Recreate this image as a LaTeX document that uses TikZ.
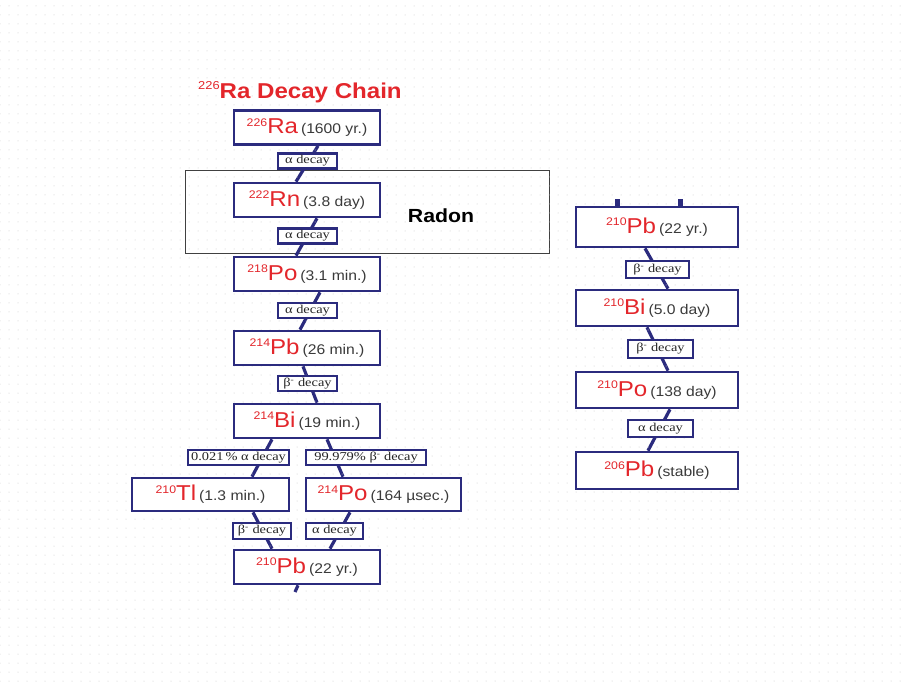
\documentclass[tikz,border=0pt]{standalone}
\usepackage{fontspec}
\setmainfont[FakeStretch=1.12]{Liberation Sans}
\newfontfamily\serifl[FakeStretch=1.2]{Liberation Serif}
\usetikzlibrary{calc,patterns.meta}
\definecolor{navy}{HTML}{2B2B7E}
\definecolor{nred}{HTML}{E3262B}
\definecolor{tgrey}{HTML}{3A3A3A}
\pgfdeclarelayer{bg}
\pgfsetlayers{bg,main}
\newcommand\nuc[3]{\textcolor{nred}{\fontsize{11}{11}\selectfont\raisebox{7.5pt}{#1}}\textcolor{nred}{\fontsize{21.5}{21}\selectfont #2}\hspace{3pt}\textcolor{tgrey}{\fontsize{14}{14}\selectfont(#3)}}
\newcommand\bmin{β\textsuperscript{-}}
\tikzset{
  iso/.style={draw=navy, line width=2.7pt, fill=white, minimum width=146pt, minimum height=34pt, inner sep=0pt},
  lab/.style={draw=navy, line width=2.1pt, fill=white, inner sep=0pt, minimum width=59pt, minimum height=15pt, font=\serifl\fontsize{12}{12}\selectfont, text=black!85},
  conn/.style={draw=navy, line width=3.2pt},
  stubbox/.style={fill=navy, draw=none},
  radonbox/.style={draw=black!75, line width=0.9pt}
}
\begin{document}
\begin{tikzpicture}[x=1pt,y=-1pt]
\useasboundingbox (0,0) rectangle (902,681);
\fill[pattern={Dots[distance=9pt,radius=0.5pt]}, pattern color=black!22] (0,0) rectangle (902,681);

% title
\node[anchor=base west, inner sep=0pt, text=nred] (title) at (198,98)
  {\fontsize{11.5}{11}\selectfont\raisebox{8.5pt}{226}\fontsize{21.5}{21}\selectfont\bfseries Ra Decay Chain};

% left chain
\node[iso] (ra)   at (307,127.5) {\nuc{226}{Ra}{1600 yr.}};
\node[iso] (rn)   at (307,200)   {\nuc{222}{Rn}{3.8 day}};
\node[iso] (po218) at (307,274)  {\nuc{218}{Po}{3.1 min.}};
\node[iso] (pb214) at (307,348)  {\nuc{214}{Pb}{26 min.}};
\node[iso] (bi214) at (307,421)  {\nuc{214}{Bi}{19 min.}};
\node[iso, minimum width=157pt, minimum height=33pt] (tl210) at (210.5,494.5) {\nuc{210}{Tl}{1.3 min.}};
\node[iso, minimum width=155pt, minimum height=33pt] (po214) at (383.5,494.5) {\nuc{214}{Po}{164 µsec.}};
\node[iso] (pb210) at (307,567)  {\nuc{210}{Pb}{22 yr.}};

\node[lab] (l1) at (307.5,161)   {α decay};
\node[lab] (l2) at (307.5,236)   {α decay};
\node[lab] (l3) at (307.5,310.5) {α decay};
\node[lab] (l4) at (307.5,383.5) {\bmin\ decay};
\node[lab, minimum width=101pt] (l5) at (238.5,457.5) {0.021\,\% α decay};
\node[lab, minimum width=120pt] (l6) at (366,457.5) {99.979\% \bmin\ decay};
\node[lab, minimum width=58pt, minimum height=16pt] (l7) at (262,531) {\bmin\ decay};
\node[lab, minimum width=57pt, minimum height=16pt] (l8) at (334.5,531) {α decay};

% radon
\node[font=\fontsize{19}{19}\selectfont\bfseries, text=black] (radon) at (441,216) {Radon};

% right chain
\node[iso, minimum width=162pt, minimum height=40pt] (rpb210) at (657,227) {\nuc{210}{Pb}{22 yr.}};
\node[iso, minimum width=162pt, minimum height=36pt] (rbi210) at (657,308) {\nuc{210}{Bi}{5.0 day}};
\node[iso, minimum width=162pt, minimum height=36pt] (rpo210) at (657,390) {\nuc{210}{Po}{138 day}};
\node[iso, minimum width=162pt, minimum height=37pt] (rpb206) at (657,470.5) {\nuc{206}{Pb}{stable}};
\node[lab, minimum width=63pt, minimum height=17pt] (r1) at (657.5,269.5) {\bmin\ decay};
\node[lab, minimum width=65pt, minimum height=18pt] (r2) at (660.5,349) {\bmin\ decay};
\node[lab, minimum width=65pt, minimum height=17pt] (r3) at (660.5,428.5) {α decay};

\coordinate (stub) at (295,592);

\begin{pgfonlayer}{bg}
\draw[radonbox] (185,170) rectangle (549,253);
\draw[conn] ($(ra.south)+(11,0)$) -- ($(rn.north)+(-11,0)$);
\draw[conn] ($(rn.south)+(10,0)$) -- ($(po218.north)+(-11,0)$);
\draw[conn] ($(po218.south)+(13,0)$) -- ($(pb214.north)+(-7,0)$);
\draw[conn] ($(pb214.south)+(-4,0)$) -- ($(bi214.north)+(10,0)$);
\draw[conn] ($(bi214.south)+(-35,0)$) -- ($(tl210.north)+(41.5,0)$);
\draw[conn] ($(bi214.south)+(20,0)$) -- ($(po214.north)+(-40.5,0)$);
\draw[conn] ($(tl210.south)+(42.5,0)$) -- ($(pb210.north)+(-35,0)$);
\draw[conn] ($(po214.south)+(-33.5,0)$) -- ($(pb210.north)+(23,0)$);
\draw[conn] ($(pb210.south)+(-9,0)$) -- (stub);
\draw[conn] ($(rpb210.south)+(-12,0)$) -- ($(rbi210.north)+(11,0)$);
\draw[conn] ($(rbi210.south)+(-10,0)$) -- ($(rpo210.north)+(11,0)$);
\draw[conn] ($(rpo210.south)+(13,0)$) -- ($(rpb206.north)+(-9,0)$);
\end{pgfonlayer}
\fill[stubbox] ($(rpb210.north)+(-42.5,-7)$) rectangle ($(rpb210.north)+(-37.5,0)$);
\fill[stubbox] ($(rpb210.north)+(20.5,-7)$) rectangle ($(rpb210.north)+(25.5,0)$);
\end{tikzpicture}
\end{document}
